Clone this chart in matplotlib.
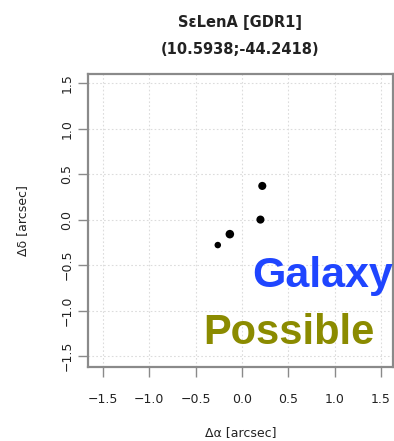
import matplotlib
matplotlib.use("Agg")
import matplotlib.pyplot as plt

# Offsets of the detected sources (arcsec)
d_ra = [0.22, 0.20, -0.13, -0.26]
d_dec = [0.37, 0.00, -0.16, -0.28]
sizes = [34, 34, 38, 22]

ticks = [-1.5, -1.0, -0.5, 0.0, 0.5, 1.0, 1.5]
tick_labels = ["\u22121.5", "\u22121.0", "\u22120.5", "0.0", "0.5", "1.0", "1.5"]

title_lines = ["S\u03b5LenA [GDR1]", "(10.5938;-44.2418)"]
class_label = "Galaxy"
status_label = "Possible"

plt.rcParams["font.family"] = ["DejaVu Sans"]

W, H = 394, 441
fig = plt.figure(figsize=(W / 100, H / 100), dpi=100)
left, right, top, bottom = 88, 393, 74, 367
aw, ah = right - left, bottom - top
ax = fig.add_axes([left / W, 1 - bottom / H, aw / W, ah / H])

ax.set_xlim(-1.66, 1.63)
ax.set_ylim(-1.62, 1.60)

ax.set_xticks(ticks)
ax.set_xticklabels(tick_labels)
ax.set_yticks(ticks)
ax.set_yticklabels(tick_labels, rotation=90, va="center")

ax.grid(True, color="#dcdcdc", linestyle=(0, (1.5, 2)), linewidth=0.8)
ax.set_axisbelow(True)

for s in ax.spines.values():
    s.set_color("#8a8a8a")
    s.set_linewidth(1.6)

ax.tick_params(axis="both", length=7.5, width=1.0, color="#8a8a8a",
               labelsize=9, labelcolor="#222222")
ax.tick_params(axis="x", pad=11)
ax.tick_params(axis="y", pad=3)

ax.scatter(d_ra, d_dec, s=sizes, color="black", zorder=3, edgecolors="none")

ax.set_xlabel("\u0394\u03b1 [arcsec]", fontsize=9, color="#222222")
ax.set_ylabel("\u0394\u03b4 [arcsec]", fontsize=9, color="#222222")
ax.xaxis.set_label_coords(0.5, (bottom - 433) / ah)
ax.yaxis.set_label_coords((23 - left) / aw, 0.5)
ax.xaxis.label.set_va("center")
ax.yaxis.label.set_va("center")

cx = (left + right) / 2 / W
fig.text(cx, 1 - 23 / H, title_lines[0], ha="center", va="center",
         fontsize=10.5, fontweight="bold", color="#222222")
fig.text(cx, 1 - 50 / H, title_lines[1], ha="center", va="center",
         fontsize=10.5, fontweight="bold", color="#222222")

fig.text(252 / W, 1 - 276 / H, class_label, ha="left", va="center",
         fontsize=31, fontweight="bold", color="#1f45ff",
         family="Liberation Sans")
fig.text(203 / W, 1 - 333 / H, status_label, ha="left", va="center",
         fontsize=30, fontweight="bold", color="#8b8b00",
         family="Liberation Sans")

fig.savefig("out.png", dpi=100)
